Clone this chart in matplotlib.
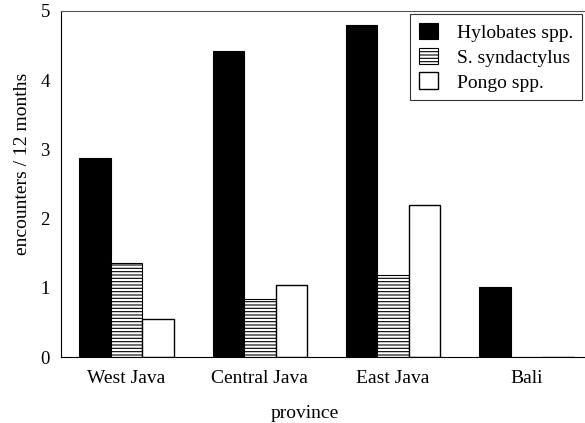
import matplotlib
matplotlib.use("Agg")
import matplotlib.pyplot as plt
import numpy as np

plt.rcParams['font.family'] = ['Liberation Serif', 'DejaVu Serif']
plt.rcParams['hatch.linewidth'] = 0.8
plt.rcParams['hatch.color'] = '#555555'

provinces = ["West Java", "Central Java", "East Java", "Bali"]
series_names = ["Hylobates spp.", "S. syndactylus", "Pongo spp."]
hylobates = [2.87, 4.42, 4.80, 1.01]
syndactylus = [1.36, 0.84, 1.19, 0.0]
pongo = [0.55, 1.04, 2.20, 0.0]
y_ticks = [0, 1, 2, 3, 4, 5]

fig = plt.figure(figsize=(5.85, 4.23), dpi=100)
ax = fig.add_axes([0.1043, 0.156, 0.8957, 0.818])

x = np.arange(len(provinces))
w = 0.236
ax.bar(x - w, hylobates, w, color='black', edgecolor='black', linewidth=0.8, label=series_names[0])
ax.bar(x, syndactylus, w, color='white', edgecolor='black', linewidth=0.8, hatch='-----', label=series_names[1])
ax.bar(x + w, pongo, w, color='white', edgecolor='black', linewidth=1.0, label=series_names[2])

ax.set_xlim(-0.491, 3.439)
ax.set_ylim(0, 5)
ax.set_yticks(y_ticks)
ax.set_xticks(x)
ax.set_xticklabels(provinces, fontsize=14)
ax.tick_params(axis='y', labelsize=13.5, length=0, pad=8)
ax.tick_params(axis='x', length=0, pad=9)
ax.spines['right'].set_visible(False)
ax.spines['top'].set_color('#555555')
ax.set_ylabel("encounters / 12 months", fontsize=14)
ax.yaxis.set_label_coords(-0.058, 0.558)
ax.set_xlabel("province", fontsize=14)
ax.xaxis.set_label_coords(0.466, -0.138)

leg = ax.legend(loc='upper right', bbox_to_anchor=(1.0, 1.0), fontsize=14, frameon=True,
                fancybox=False, edgecolor='black', handlelength=0.95, handleheight=0.95,
                borderpad=0.45, labelspacing=0.3, handletextpad=1.0, borderaxespad=0.15)
leg.get_frame().set_linewidth(0.8)

fig.savefig("out.png", dpi=100)
